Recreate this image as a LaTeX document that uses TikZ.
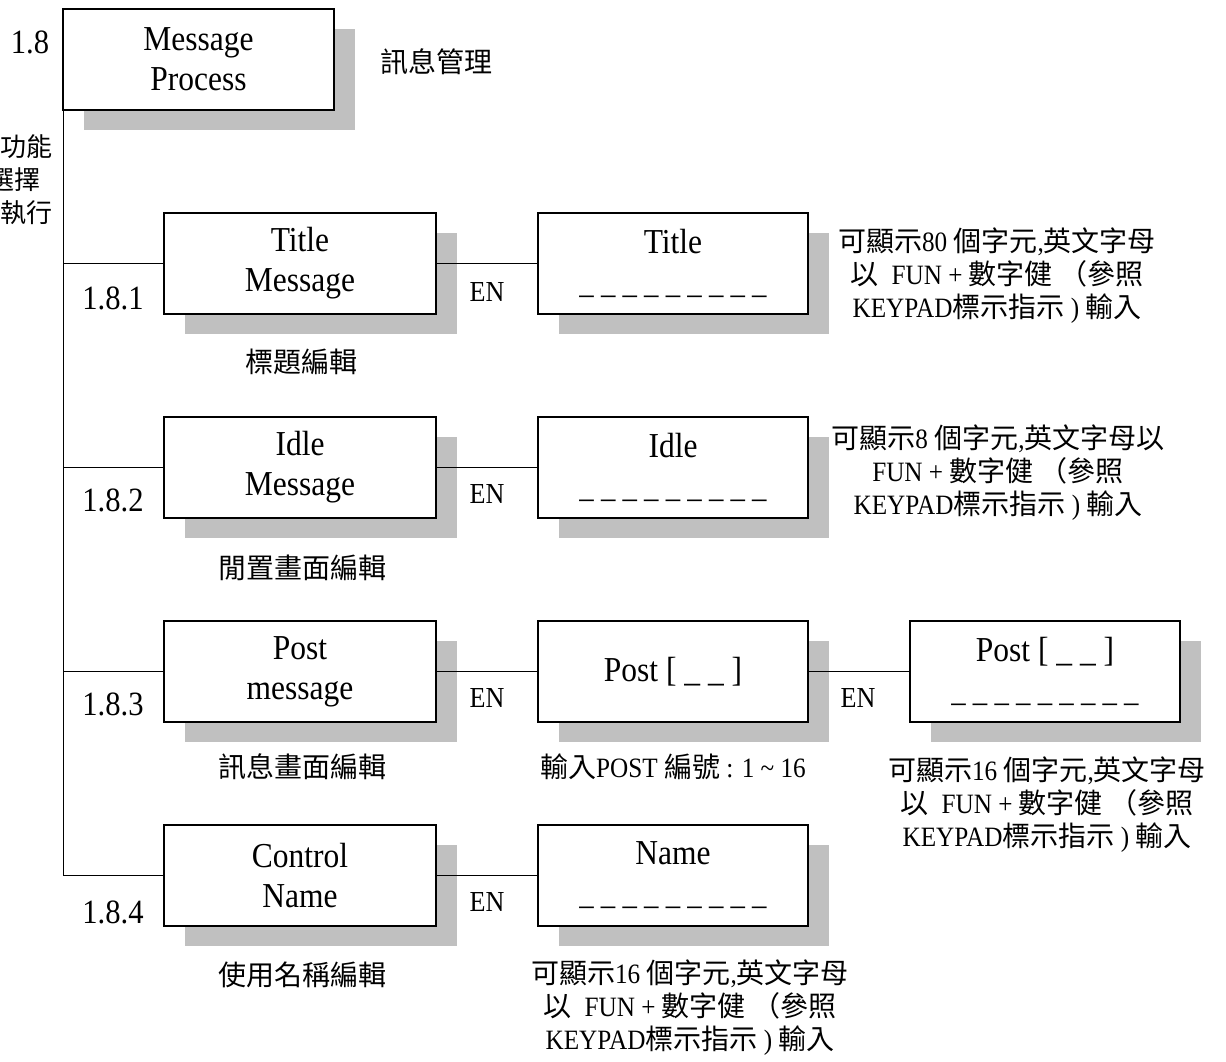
\documentclass[tikz,border=0pt]{standalone}
\usepackage{fontspec}
\setmainfont{Liberation Serif}[FakeStretch=0.9]
\newfontfamily\cjk{Noto Sans CJK TC}
\usetikzlibrary{shadows}
\definecolor{shgray}{RGB}{192,192,192}
\newcommand\zh[1]{{\cjk #1}}
\newcommand\mydashes{{\fontsize{32}{40}\selectfont\_ \_ \_ \_ \_ \_ \_ \_ \_}}
\begin{document}
\begin{tikzpicture}[x=1pt,y=-1pt,
  box/.style={draw, line width=1.2pt, fill=white, minimum width=271pt, minimum height=101pt,
    inner sep=0pt, outer sep=0pt, align=center, font=\fontsize{35}{40}\selectfont,
    general shadow={fill=shgray, shadow xshift=21pt, shadow yshift=-20pt}},
  conn/.style={line width=1pt},
  lbl/.style={inner sep=0pt, font=\fontsize{34}{40}\selectfont},
  en/.style={inner sep=0pt, font=\fontsize{29}{34}\selectfont},
  note/.style={inner sep=0pt, align=center, font=\fontsize{28}{33}\selectfont},
  zhl/.style={inner sep=0pt, font=\fontsize{28}{33}\selectfont\cjk},
]
\useasboundingbox (0,0) rectangle (1226,1062);
\clip (0,0) rectangle (1226,1062);

% boxes
\node[box] (top) at (198.5,59.5) {Message\\Process};
\node[box, minimum width=272pt] (t1) at (300,263.5) {Title\\Message};
\node[box, minimum width=272pt] (t2) at (300,467.5) {Idle\\Message};
\node[box, minimum width=272pt] (t3) at (300,671.5) {Post\\message};
\node[box, minimum width=272pt] (t4) at (300,875.5) {Control\\Name};
\node[box, minimum width=270pt] (r1) at (673,263.5) {Title\\\mydashes};
\node[box, minimum width=270pt] (r2) at (673,467.5) {Idle\\\mydashes};
\node[box, minimum width=270pt] (r3) at (673,671.5) {Post [ \_ \_ ]};
\node[box, minimum width=270pt] (r4) at (673,875.5) {Name\\\mydashes};
\node[box, minimum width=270pt] (p3) at (1045,671.5) {Post [ \_ \_ ]\\\mydashes};

% connectors
\draw[conn] (top.south west) -- (top.south west |- t4.west);
\draw[conn] (top.south west |- t1.west) -- (t1.west);
\draw[conn] (top.south west |- t2.west) -- (t2.west);
\draw[conn] (top.south west |- t3.west) -- (t3.west);
\draw[conn] (top.south west |- t4.west) -- (t4.west);
\draw[conn] (t1.east) -- (r1.west);
\draw[conn] (t2.east) -- (r2.west);
\draw[conn] (t3.east) -- (r3.west);
\draw[conn] (t4.east) -- (r4.west);
\draw[conn] (r3.east) -- (p3.west);

% numbers
\node[lbl] (n18) at (30,42) {1.8};
\node[lbl] (n181) at (113,298) {1.8.1};
\node[lbl] (n182) at (113,500) {1.8.2};
\node[lbl] (n183) at (113,704) {1.8.3};
\node[lbl] (n184) at (113,912) {1.8.4};

% EN labels
\node[en] (en1) at (487,292) {EN};
\node[en] (en2) at (487,494) {EN};
\node[en] (en3) at (487,698) {EN};
\node[en] (en3b) at (858,698) {EN};
\node[en] (en4) at (487,902) {EN};

% chinese labels
\node[zhl] (zm) at (436,62) {訊息管理};
\node[zhl, anchor=east, font=\fontsize{26}{33}\selectfont\cjk] (g1) at (53,147) {功能};
\node[zhl, anchor=east, font=\fontsize{26}{33}\selectfont\cjk] (g2) at (41,180) {選擇};
\node[zhl, anchor=east, font=\fontsize{26}{33}\selectfont\cjk] (g3) at (53,213) {執行};
\node[zhl] (d1) at (301,362) {標題編輯};
\node[zhl] (d2) at (302,568) {閒置畫面編輯};
\node[zhl] (d3) at (302,767) {訊息畫面編輯};
\node[zhl] (d4) at (302,975) {使用名稱編輯};
\node[note] (post) at (673,767) {\zh{輸入}POST \zh{編號} : 1 \textasciitilde{} 16};

% notes
\node[note] (note1) at (997,276) {\zh{可顯示}80 \zh{個字元},\zh{英文字母}\\
  \zh{以}\ \ FUN + \zh{數字健 （參照}\\
  KEYPAD\zh{標示指示} ) \zh{輸入}};
\node[note] (note2) at (998,473) {\zh{可顯示}8 \zh{個字元},\zh{英文字母以}\\
  FUN + \zh{數字健 （參照}\\
  KEYPAD\zh{標示指示} ) \zh{輸入}};
\node[note] (note3) at (1047,805) {\zh{可顯示}16 \zh{個字元},\zh{英文字母}\\
  \zh{以}\ \ FUN + \zh{數字健 （參照}\\
  KEYPAD\zh{標示指示} ) \zh{輸入}};
\node[note] (note4) at (690,1008) {\zh{可顯示}16 \zh{個字元},\zh{英文字母}\\
  \zh{以}\ \ FUN + \zh{數字健 （參照}\\
  KEYPAD\zh{標示指示} ) \zh{輸入}};
\end{tikzpicture}
\end{document}
